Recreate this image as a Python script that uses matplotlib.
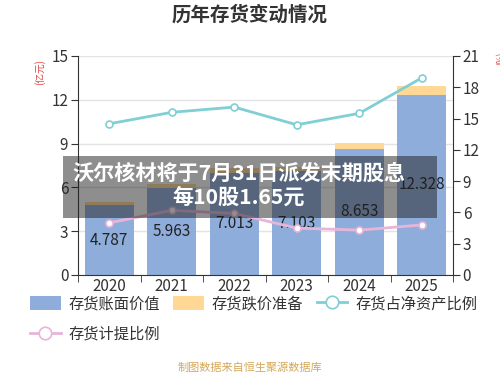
import matplotlib
matplotlib.use("Agg")
import matplotlib.pyplot as plt
from matplotlib.patches import Patch, Rectangle
from matplotlib.lines import Line2D
import numpy as np

plt.rcParams['font.family'] = ['Noto Sans CJK SC', 'DejaVu Sans']

years = ['2020', '2021', '2022', '2023', '2024', '2025']
book_value = [4.787, 5.963, 7.013, 7.103, 8.653, 12.328]
impairment = [0.23, 0.30, 0.30, 0.30, 0.41, 0.62]
ratio_net_assets = [14.5, 15.6, 16.1, 14.4, 15.5, 18.9]
provision_ratio = [5.0, 6.2, 5.9, 4.5, 4.3, 4.8]
left_ticks = [0, 3, 6, 9, 12, 15]
right_ticks = [0, 3, 6, 9, 12, 15, 18, 21]

c_blue = '#8FADDB'
c_tan = '#FFD896'
c_cyan = '#7FCFD4'
c_pink = '#E8B5DA'
c_text = '#333333'

fig = plt.figure(figsize=(5, 3.75), dpi=100)
ax = fig.add_axes([0.156, 0.2667, 0.75, 0.584])
ax2 = ax.twinx()

x = np.arange(len(years))
bars = ax.bar(x, book_value, width=0.78, color=c_blue, zorder=2)
ax.bar(x, impairment, width=0.78, bottom=book_value, color=c_tan, zorder=2)
ax.bar_label(bars, labels=[f'{v:.3f}' for v in book_value], label_type='center',
             fontsize=11, color='#222222')

ax2.plot(x, ratio_net_assets, color=c_cyan, lw=2, marker='o', ms=5,
         mfc='white', mec=c_cyan, mew=1.2, zorder=3)
ax2.plot(x, provision_ratio, color=c_pink, lw=2, marker='o', ms=5,
         mfc='white', mec=c_pink, mew=1.2, zorder=3)

ax.set_xlim(-0.5, len(years) - 0.5)
ax.set_ylim(0, 15)
ax2.set_ylim(0, 21)
ax.set_yticks(left_ticks)
ax2.set_yticks(right_ticks)
ax.set_xticks(x)
ax.set_xticklabels(years)
ax.set_xticks(np.arange(-0.5, len(years)), minor=True)
ax.tick_params(axis='x', which='major', length=0, labelsize=11, colors=c_text, pad=2)
ax.tick_params(axis='x', which='minor', length=5, color='#333333', direction='out')
ax.tick_params(axis='y', length=5, labelsize=11, colors=c_text, pad=2)
ax2.tick_params(axis='y', length=5, labelsize=11, colors=c_text, pad=2)

ax.grid(axis='y', color='#E3E3E3', lw=1, zorder=0)
ax.set_axisbelow(True)
for a in (ax, ax2):
    a.spines['top'].set_visible(False)
    a.spines['left'].set_color('#333333')
    a.spines['right'].set_color('#333333')
    a.spines['bottom'].set_color('#333333')
ax2.spines['left'].set_visible(False)
ax.spines['right'].set_visible(False)
ax2.spines['bottom'].set_visible(False)

fig.text(0.5, 1 - 15 / 375, '历年存货变动情况', ha='center', va='center',
         fontsize=14, fontweight='bold', color='#333333')
fig.text(40 / 500, 1 - 72 / 375, '(亿元)', rotation=90, ha='center', va='center',
         fontsize=7, color='#E04040')
fig.text(496 / 500, 1 - 58 / 375, '(%)', rotation=90, ha='left', va='center',
         fontsize=6, color='#E04040')

h_blue = Patch(facecolor=c_blue, edgecolor='none')
h_tan = Patch(facecolor=c_tan, edgecolor='none')
h_cyan = Line2D([0], [0], color=c_cyan, lw=2, marker='o', ms=9, mfc='white', mec=c_cyan, mew=1.2)
h_pink = Line2D([0], [0], color=c_pink, lw=2, marker='o', ms=9, mfc='white', mec=c_pink, mew=1.2)
handles = [h_blue, h_pink, h_tan, h_cyan]
labels = ['存货账面价值', '存货计提比例', '存货跌价准备', '存货占净资产比例']
leg = fig.legend(handles, labels, loc='upper left', bbox_to_anchor=(30 / 500, 1 - 295 / 375),
                 ncol=3, frameon=False, fontsize=11, handlelength=2.0, handleheight=1.0,
                 handletextpad=0.5, columnspacing=0.9, labelspacing=0.9, borderpad=0,
                 borderaxespad=0)
for t in leg.get_texts():
    t.set_color(c_text)

fig.text(0.5, 1 - 368 / 375, '制图数据来自恒生聚源数据库', ha='center', va='center',
         fontsize=8, color='#D4A858')

# overlay banner
fig.patches.append(Rectangle((63 / 500, 1 - 218 / 375), 374 / 500, 62 / 375,
                             transform=fig.transFigure, facecolor=(0.12, 0.12, 0.12),
                             alpha=0.5, edgecolor='none', zorder=10))
fig.text(239 / 500, 1 - 173 / 375, '沃尔核材将于7月31日派发末期股息', ha='center', va='center',
         fontsize=15.2, fontweight='bold', color='white', zorder=11)
fig.text(239 / 500, 1 - 197 / 375, '每10股1.65元', ha='center', va='center',
         fontsize=15.2, fontweight='bold', color='white', zorder=11)

fig.savefig('out.png', dpi=100)
